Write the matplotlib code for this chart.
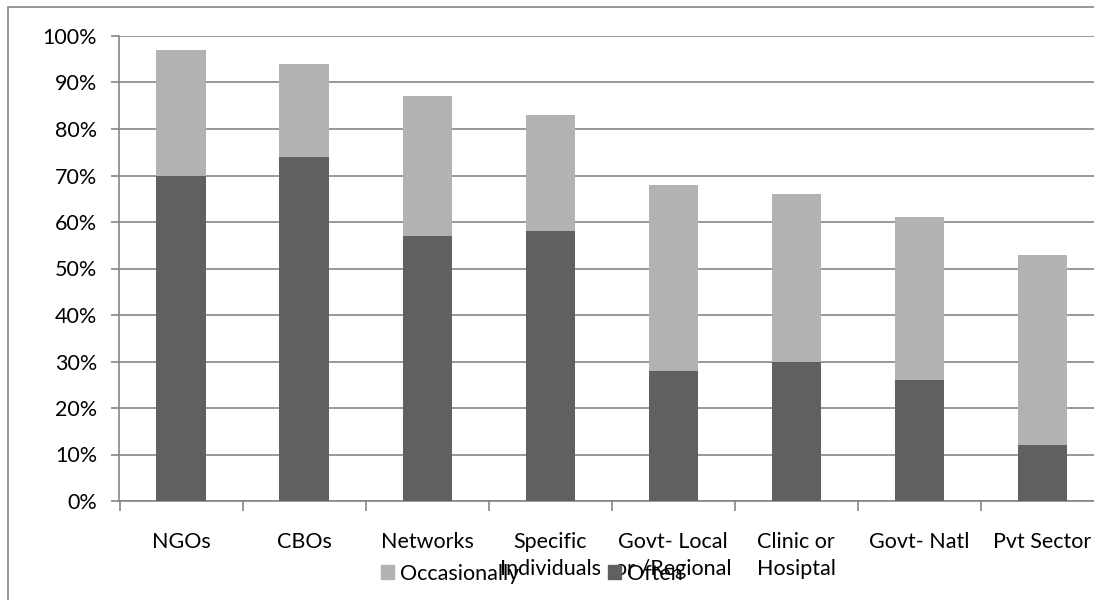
import numpy as np
import matplotlib
matplotlib.use('Agg')
import matplotlib.pyplot as plt
from matplotlib.patches import Rectangle, Patch

plt.rcParams['font.family'] = ['Lato', 'DejaVu Sans']

categories = ['NGOs', 'CBOs', 'Networks', 'Specific\nIndividuals', 'Govt- Local\nor /Regional',
              'Clinic or\nHosiptal', 'Govt- Natl', 'Pvt Sector']
often = [70, 74, 57, 58, 28, 30, 26, 12]
occasionally = [27, 20, 30, 25, 40, 36, 35, 41]
y_ticks = [0, 10, 20, 30, 40, 50, 60, 70, 80, 90, 100]

W, H = 1094, 600
FS = 15.5
fig = plt.figure(figsize=(W / 100, H / 100), dpi=100)

# outer chart frame
fig.patches.append(Rectangle((8 / W, -0.05), 1.2, 1 - 7 / H + 0.05, transform=fig.transFigure,
                             fill=False, edgecolor='#868686', linewidth=1.2))

ax = fig.add_axes([119.5 / W, 1 - 501 / H, (1104 - 119.5) / W, (501 - 36) / H])

x = np.arange(len(categories))
ax.bar(x, often, width=0.4, color='#606060', label='Often', zorder=3)
ax.bar(x, occasionally, width=0.4, bottom=often, color='#b2b2b2', label='Occasionally', zorder=3)

ax.set_xlim(-0.5, len(categories) - 0.5)
ax.set_ylim(0, 100)
ax.set_yticks(y_ticks)
ax.set_yticklabels([f'{v}%' for v in y_ticks])
ax.yaxis.grid(True, color='#868686', linewidth=1.2, zorder=0)

ax.set_xticks(x)
ax.set_xticklabels(categories, linespacing=1.45)
ax.set_xticks(np.arange(len(categories) + 1) - 0.5, minor=True)
ax.tick_params(axis='x', which='major', length=0, pad=22, labelsize=FS)
ax.tick_params(axis='x', which='minor', length=7, width=1.2, color='#868686')
ax.tick_params(axis='y', length=6, width=1.2, color='#868686', labelsize=FS, pad=10)

for s in ['top', 'right']:
    ax.spines[s].set_visible(False)
for s in ['left', 'bottom']:
    ax.spines[s].set_color('#868686')
    ax.spines[s].set_linewidth(1.2)

# legend entries placed one by one along the bottom
legend_items = [('Occasionally', '#b2b2b2', 381), ('Often', '#606060', 608)]
for name, color, left in legend_items:
    fig.legend(handles=[Patch(color=color, label=name)], loc='center left',
               bbox_to_anchor=(left / W, 1 - 574 / H), frameon=False, fontsize=FS,
               handlelength=0.62, handleheight=0.62, handletextpad=0.25, borderpad=0,
               borderaxespad=0)

fig.savefig('out.png', dpi=100)
